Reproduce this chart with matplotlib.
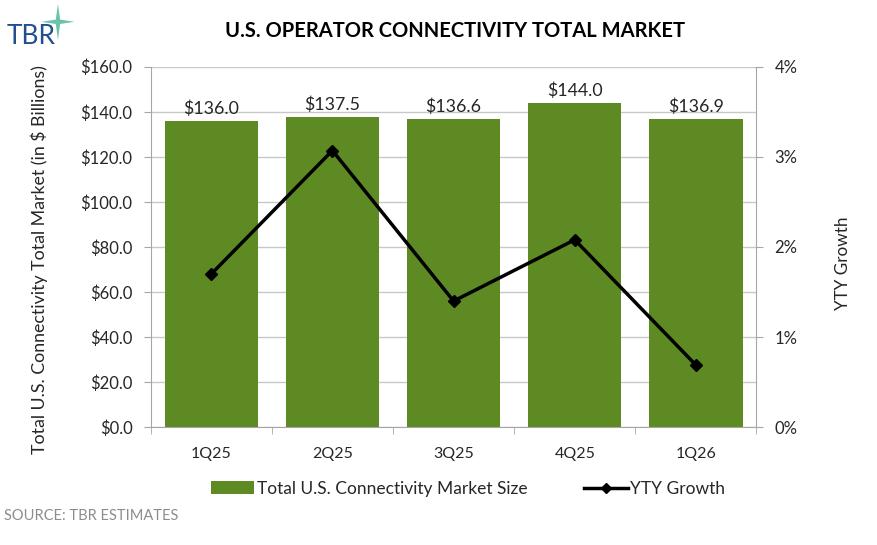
import numpy as np
import matplotlib.pyplot as plt
from matplotlib.lines import Line2D
from matplotlib.patches import Patch, Polygon

plt.rcParams['font.family'] = ['Lato', 'DejaVu Sans']

# ========== DATA ==========
quarters = ["1Q25", "2Q25", "3Q25", "4Q25", "1Q26"]
market_size = [136.0, 137.5, 136.6, 144.0, 136.9]
yty_growth = [1.70, 3.07, 1.40, 2.08, 0.69]

bar_color = "#5E8A24"
grid_color = "#C8C8C8"
spine_color = "#A6A6A6"
text_color = "#262626"

# ========== FIGURE ==========
fig = plt.figure(figsize=(8.78, 5.45), dpi=100)
ax = fig.add_axes([0.1716, 0.216, 0.690, 0.6616])
ax2 = ax.twinx()

x = np.arange(len(quarters))
ax.bar(x, market_size, width=0.77, color=bar_color, zorder=2)
for xi, v in zip(x, market_size):
    ax.annotate(f"${v:.1f}", (xi, v), xytext=(0, 3), textcoords="offset points",
                ha="center", va="bottom", fontsize=12.8, color=text_color)

ax.set_xlim(-0.5, len(quarters) - 0.5)
ax.set_ylim(0, 160)
ax.set_yticks(np.arange(0, 161, 20))
ax.set_yticklabels([f"${v:.1f}" for v in np.arange(0, 161, 20)])
ax.yaxis.grid(True, color=grid_color, linewidth=1, zorder=0)
ax.set_axisbelow(True)

# category ticks sit between the bars
ax.set_xticks(x)
ax.set_xticklabels(quarters)
ax.set_xticks(np.arange(-0.5, len(quarters), 1), minor=True)
ax.tick_params(axis="x", which="major", length=0, pad=14, labelsize=11.5, colors=text_color)
ax.tick_params(axis="x", which="minor", length=5, color=spine_color)
ax.tick_params(axis="y", length=5, color=spine_color, labelsize=12, labelcolor=text_color, pad=8)

for s in ["top", "right"]:
    ax.spines[s].set_visible(False)
ax.spines["left"].set_color(spine_color)
ax.spines["bottom"].set_color(spine_color)

ax.set_ylabel("Total U.S. Connectivity Total Market (in $ Billions)", fontsize=12.8,
              color=text_color)
ax.yaxis.set_label_coords(-0.17, 0.465)

# ========== YTY LINE ==========
ax2.plot(x, yty_growth, color="black", linewidth=2.5, marker="D", markersize=6, zorder=3)
ax2.set_ylim(0, 4)
ax2.set_yticks([0, 1, 2, 3, 4])
ax2.set_yticklabels([f"{v}%" for v in range(5)])
ax2.tick_params(axis="y", length=5, color=spine_color, labelsize=12, labelcolor=text_color, pad=8)
for s in ["top", "left", "bottom"]:
    ax2.spines[s].set_visible(False)
ax2.spines["right"].set_color(spine_color)
ax2.set_ylabel("YTY Growth", fontsize=12.3, color=text_color)
ax2.yaxis.set_label_coords(1.13, 0.455)

# ========== TITLE / LEGEND / SOURCE ==========
fig.text(0.518, 0.944, "U.S. OPERATOR CONNECTIVITY TOTAL MARKET", ha="center", va="center",
         fontsize=14.5, fontweight="bold", color="black")

handles = [Patch(facecolor=bar_color, edgecolor="none"),
           Line2D([0], [0], color="black", linewidth=2.5, marker="D", markersize=5)]
fig.legend(handles, ["Total U.S. Connectivity Market Size", "YTY Growth"],
           loc="center", bbox_to_anchor=(0.533, 0.103), ncol=2, frameon=False,
           fontsize=12.5, handlelength=2.5, handletextpad=0.15, columnspacing=3.3,
           handleheight=0.8, labelcolor=text_color)

fig.text(0.004, 0.053, "SOURCE: TBR ESTIMATES", ha="left", va="center",
         fontsize=10.5, color="#8C8C8C")

# TBR logo: text plus a tapered four-point star
fig.text(0.008, 0.933, "TBR", ha="left", va="center", fontsize=19, color="#1F4F8F")
cx, cy = 0.066, 0.960
star = Polygon([(cx, cy + 0.033), (cx + 0.0025, cy + 0.004), (cx + 0.019, cy),
                (cx + 0.0025, cy - 0.004), (cx, cy - 0.033), (cx - 0.0025, cy - 0.004),
                (cx - 0.019, cy), (cx - 0.0025, cy + 0.004)],
               closed=True, facecolor="#6CC3AB", edgecolor="none",
               transform=fig.transFigure)
fig.add_artist(star)

plt.savefig("out.png", dpi=100)
